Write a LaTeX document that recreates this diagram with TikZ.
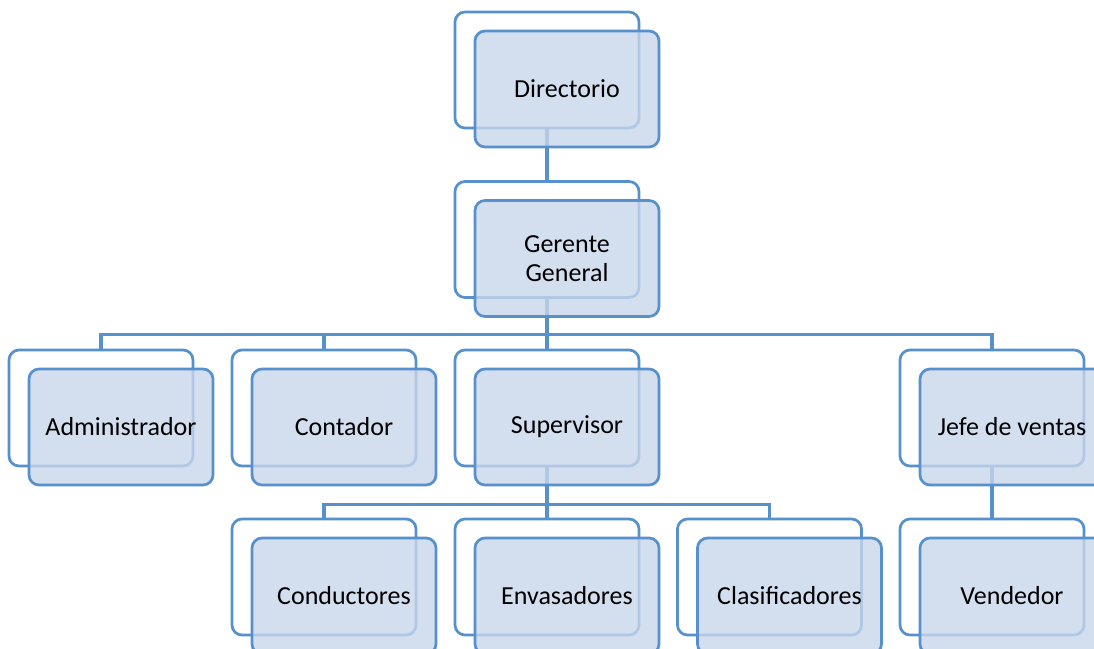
\documentclass[tikz,border=0pt]{standalone}
\usepackage{fontspec}
\setmainfont{Carlito}
\usetikzlibrary{backgrounds}
\definecolor{boxline}{RGB}{86,145,206}
\definecolor{boxfill}{RGB}{200,214,234}
\tikzset{
  back/.style={draw=boxline, line width=2.7pt, fill=white, rounded corners=10pt,
    minimum width=184pt, minimum height=116pt, inner sep=0pt},
  front/.style={draw=boxline, line width=2.7pt, fill=boxfill, fill opacity=0.8,
    text opacity=1, rounded corners=10pt, minimum width=184pt, minimum height=116pt,
    inner sep=0pt, align=center, font=\fontsize{26}{29}\selectfont},
  link/.style={draw=boxline, line width=3.2pt}
}
% one unit of the chart: a white frame with a shaded card laid over it
\newcommand{\orgunit}[4]{% name, x, y, label
  \node[back] (#1b) at (#2,#3) {};
  \node[front] (#1) at ([xshift=20pt,yshift=-19pt]#1b.center) {#4};
}
\begin{document}
\begin{tikzpicture}[x=1pt,y=-1pt]
\useasboundingbox (0,0) rectangle (1094,648);
\clip (0,0) rectangle (1094,648);
% organisation units
\orgunit{dir}{547}{70}{Directorio}
\orgunit{ger}{547}{239.5}{Gerente\\General}
\orgunit{adm}{101}{408}{Administrador}
\orgunit{con}{324}{408}{Contador}
\orgunit{sup}{547}{408}{Supervisor}
\orgunit{jef}{992}{408}{Jefe de ventas}
\orgunit{cnd}{324}{577}{Conductores}
\orgunit{env}{547}{577}{Envasadores}
\orgunit{cla}{769.5}{577}{Clasificadores}
\orgunit{ven}{992}{577}{Vendedor}
% connectors, kept underneath the cards
\begin{pgfonlayer}{background}
\fill[white] (0,0) rectangle (1094,648);
\coordinate (busA) at ([yshift=-36pt]gerb.south);
\coordinate (busB) at ([yshift=-37pt]supb.south);
\draw[link] (dirb.center) -- (gerb.center);
\draw[link] (gerb.center) -- (busA);
\draw[link] (busA) -| (admb.center);
\draw[link] (busA) -| (conb.center);
\draw[link] (busA) -- (supb.center);
\draw[link] (busA) -| (jefb.center);
\draw[link] (supb.center) -- (busB);
\draw[link] (busB) -| (cndb.center);
\draw[link] (busB) -- (envb.center);
\draw[link] (busB) -| (clab.center);
\draw[link] (jefb.center) -- (venb.center);
\end{pgfonlayer}
\end{tikzpicture}
\end{document}
